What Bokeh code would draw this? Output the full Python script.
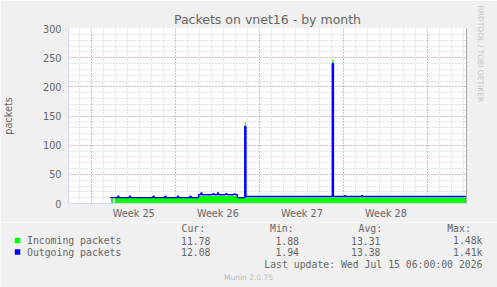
from bokeh.plotting import figure
from bokeh.layouts import column
from bokeh.models import FixedTicker, LinearAxis, Range1d, Title
from bokeh.core.properties import value
from bokeh.embed import file_html
from bokeh.resources import INLINE

# ---------------- data ----------------
title_text = "Packets on vnet16 - by month"
y_label = "packets"
week_labels = ["Week 25", "Week 26", "Week 27", "Week 28"]
week_starts = [1.94, 8.94, 15.94, 22.94, 29.94]     # days since graph start
span_days = 33.15
y_ticks = [0, 50, 100, 150, 200, 250, 300]

# Incoming packets (step, value holds from day[i] to day[i+1])
in_days = [3.55, 3.70, 3.86, 10.83, 14.07, 14.68, 14.78, 21.97, 22.07, 33.15]
in_vals = [9.5, 0.0, 9.5, 13.0, 10.0, 139.0, 10.5, 247.0, 10.5, 10.5]

# Outgoing packets
out_days = [3.46, 4.10, 4.20, 5.07, 5.17, 7.04, 7.14, 8.03, 8.13, 9.07, 9.17,
            10.11, 10.21, 10.83, 11.02, 11.12, 12.02, 12.12, 12.41, 12.51,
            13.10, 13.20, 13.79, 13.89, 14.07, 14.68, 14.78, 21.97, 22.07,
            23.01, 23.11, 24.40, 24.50, 33.15]
out_vals = [10, 12.5, 10, 12.5, 10, 12.5, 10, 12.5, 10, 12.5, 10,
            12.5, 10, 15, 18, 15, 17, 15, 18, 15,
            17, 15, 16.5, 15, 10, 132, 12, 240, 12,
            13.5, 12, 13.5, 12, 12]

series_names = ["Incoming packets", "Outgoing packets"]
series_colors = ["#00FF00", "#0000FF"]
cur_vals = ["11.78", "12.08"]
min_vals = ["1.88", "1.94"]
avg_vals = ["13.31", "13.38"]
max_vals = ["1.48k", "1.41k"]
col_heads = ["Cur:", "Min:", "Avg:", "Max:"]
last_update = "Last update: Wed Jul 15 06:00:00 2026"
watermark = "RRDTOOL / TOBI OETIKER"
version = "Munin 2.0.75"

# ---------------- main chart ----------------
W = 497
TOP_H = 222                          # main figure height
FL, FT, FR, FB = 67, 28, 466, 203    # frame edges (canvas px)
AXIS_C = "#CFD6F8"
FONT_C = "#666666"
BG = "#F0F0F0"

p = figure(width=W, height=TOP_H, output_backend="svg", toolbar_location=None,
           x_range=Range1d(0, span_days), y_range=Range1d(0, 300),
           min_border_left=FL, min_border_right=W - FR, min_border_top=FT,
           min_border_bottom=TOP_H - FB, background_fill_color="#FFFFFF",
           border_fill_color=BG, outline_line_color=None, frame_align=False)

p.title.text = title_text
p.title.align = "center"
p.title.text_font = "DejaVu Sans"
p.title.text_font_size = "12.5px"
p.title.text_font_style = "normal"
p.title.text_color = FONT_C
p.title.standoff = 4

# grids
p.xgrid.ticker = FixedTicker(ticks=week_starts,
                             minor_ticks=[week_starts[0] - 1 + i for i in range(0, 34)])
p.ygrid.ticker = FixedTicker(ticks=y_ticks, minor_ticks=list(range(0, 301, 10)))
for g in (p.xgrid, p.ygrid):
    g.grid_line_color = "#E05050"
    g.grid_line_alpha = 0.55
    g.grid_line_dash = "1 2"
    g.minor_grid_line_color = "#8F8F8F"
    g.minor_grid_line_alpha = 0.5
    g.minor_grid_line_dash = "1 2"

# axes
xa = p.xaxis[0]
centers = [(week_starts[i] + week_starts[i + 1]) / 2 for i in range(len(week_labels))]
xa.ticker = FixedTicker(ticks=centers)
xa.major_label_overrides = {c: lbl for c, lbl in zip(centers, week_labels)}
ya = p.yaxis[0]
ya.ticker = FixedTicker(ticks=y_ticks)
for a in (xa, ya):
    a.axis_line_color = AXIS_C
    a.major_tick_line_color = None
    a.minor_tick_line_color = None
    a.major_tick_out = 0
    a.major_tick_in = 0
    a.major_label_text_color = FONT_C
    a.major_label_text_font = "DejaVu Sans"
    a.major_label_text_font_size = "9.7px"
xa.major_label_standoff = 4
ya.major_label_standoff = 7
ya.axis_label = y_label
ya.axis_label_text_font = "DejaVu Sans"
ya.axis_label_text_font_size = "9.7px"
ya.axis_label_text_font_style = "normal"
ya.axis_label_text_color = FONT_C
ya.axis_label_standoff = 26

ra = LinearAxis(ticker=FixedTicker(ticks=[]), axis_line_color="#A8A8A8",
                major_tick_line_color=None, minor_tick_line_color=None,
                major_tick_out=0, major_tick_in=0,
                major_label_text_font_size="0px")
p.add_layout(ra, "right")

wm = Title(text=watermark, align="left", text_font="DejaVu Sans",
           text_font_size="7.5px", text_font_style="normal", text_color="#C4C4C4",
           standoff=19, offset=-23)
p.add_layout(wm, "right")

# data
def step_xy(days, vals):
    xs, ys = [], []
    for i in range(len(days) - 1):
        xs += [days[i], days[i + 1]]
        ys += [vals[i], vals[i]]
    return xs, ys

ix, iy = step_xy(in_days, in_vals)
p.varea(x=ix, y1=[0] * len(ix), y2=iy, fill_color=series_colors[0])
ox, oy = step_xy(out_days, out_vals)
p.line(ox, oy, line_color=series_colors[1], line_width=1.3)

# ---------------- legend strip (pixel coordinates) ----------------
H = 287
lg = figure(width=W, height=H - TOP_H, output_backend="svg", toolbar_location=None,
            x_range=Range1d(0, W), y_range=Range1d(H, TOP_H),
            min_border=0, min_border_left=0, min_border_right=0,
            min_border_top=0, min_border_bottom=0,
            x_axis_location=None, y_axis_location=None, frame_align=False,
            background_fill_color=BG, border_fill_color=BG, outline_line_color=None)
lg.grid.visible = False

MONO = value("DejaVu Sans Mono")
MS = "9.8px"
row_y = [240, 251.5]

lg.rect(x=[17.05, 17.05], y=row_y, width=5.5, height=5.5,
        fill_color=series_colors, line_color=None)

lg.text(x=[181, 269.5, 358, 446.7], y=[228] * 4, text=col_heads,
        text_font=MONO, text_font_size=MS, text_color=FONT_C,
        text_baseline="middle", text_align="left")
lg.text(x=[26.5, 26.5], y=row_y, text=series_names,
        text_font=MONO, text_font_size=MS, text_color=FONT_C,
        text_baseline="middle", text_align="left")
for xr, vals in zip([210, 298.5, 380, 482], [cur_vals, min_vals, avg_vals, max_vals]):
    lg.text(x=[xr, xr], y=row_y, text=vals,
            text_font=MONO, text_font_size=MS, text_color=FONT_C,
            text_baseline="middle", text_align="right")
lg.text(x=[482], y=[264], text=[last_update],
        text_font=MONO, text_font_size=MS, text_color=FONT_C,
        text_baseline="middle", text_align="right")
lg.text(x=[248], y=[276.5], text=[version],
        text_font=value("DejaVu Sans"), text_font_size="7.5px", text_color="#BBBBBB",
        text_baseline="middle", text_align="center")

layout = column(p, lg, spacing=0)
open("out.html", "w").write(file_html(layout, INLINE))
